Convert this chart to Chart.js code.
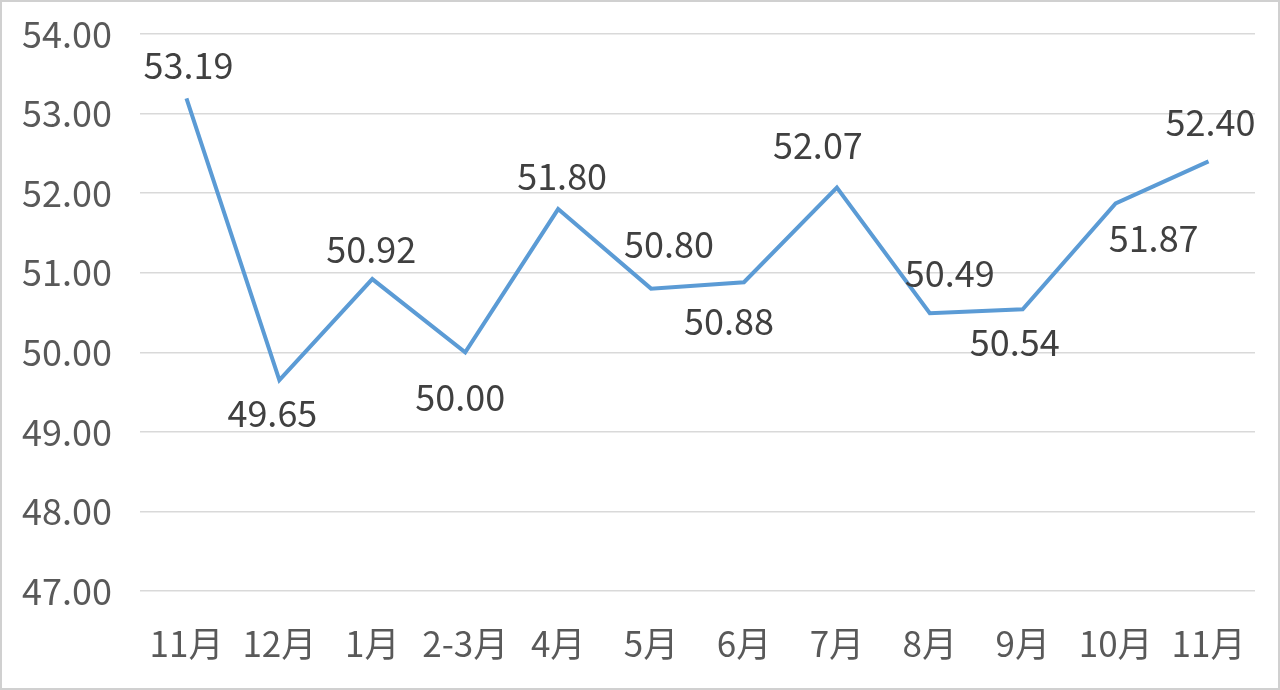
<!DOCTYPE html>
<html>
<head>
<meta charset="utf-8">
<script src="https://cdn.jsdelivr.net/npm/chart.js@4"></script>
<style>
  html, body { margin: 0; padding: 0; background: #fff; }
  #wrap { width: 1280px; height: 690px; }
</style>
</head>
<body>
<div id="wrap"><canvas id="chart" width="1280" height="690"></canvas></div>
<script>
// categories and values
const months = ['11月', '12月', '1月', '2-3月', '4月', '5月', '6月', '7月', '8月', '9月', '10月', '11月'];
const values = [53.19, 49.65, 50.92, 50.00, 51.80, 50.80, 50.88, 52.07, 50.49, 50.54, 51.87, 52.40];
const yTicks = [47, 48, 49, 50, 51, 52, 53, 54];

// where each value label sits relative to its point (style only)
const labelDx = [2, -7, -1, -5, 4, 18, -15, -19, 20, -8, 38, 2];
const labelDy = [-33, 33, -30, 45, -33, -44, 39, -42, -40, 33, 35, -39];

const FONT = '"Noto Sans CJK SC", "Noto Sans", sans-serif';

const valueLabels = {
    id: 'valueLabels',
    afterDatasetsDraw(chart) {
        const ctx = chart.ctx;
        const meta = chart.getDatasetMeta(0);
        ctx.save();
        ctx.font = '36px ' + FONT;
        ctx.fillStyle = '#404040';
        ctx.textAlign = 'center';
        ctx.textBaseline = 'middle';
        meta.data.forEach((pt, i) => {
            ctx.fillText(values[i].toFixed(2), pt.x + labelDx[i], pt.y + labelDy[i]);
        });
        ctx.restore();
    }
};

const frame = {
    id: 'frame',
    afterDraw(chart) {
        const ctx = chart.ctx;
        ctx.save();
        ctx.strokeStyle = '#d0d0d0';
        ctx.lineWidth = 2;
        ctx.strokeRect(1, 1, chart.width - 2, chart.height - 2);
        ctx.restore();
    }
};

new Chart(document.getElementById('chart'), {
    type: 'line',
    data: {
        labels: months,
        datasets: [{
            data: values,
            borderColor: '#5b9bd5',
            borderWidth: 4,
            pointRadius: 0,
            tension: 0,
            fill: false
        }]
    },
    options: {
        responsive: false,
        animation: false,
        layout: { padding: { top: 34, right: 25, bottom: 0, left: 0 } },
        plugins: {
            legend: { display: false },
            tooltip: { enabled: false }
        },
        scales: {
            x: {
                offset: true,
                grid: { display: false, drawTicks: false },
                border: { display: false },
                ticks: {
                    padding: 32,
                    color: '#595959',
                    font: { family: FONT, size: 35 },
                    maxRotation: 0,
                    autoSkip: false
                },
                afterFit(scale) {
                    scale.height = 99;
                    scale.paddingLeft = 0;
                    scale.paddingRight = 0;
                }
            },
            y: {
                min: yTicks[0],
                max: yTicks[yTicks.length - 1],
                afterBuildTicks(scale) { scale.ticks = yTicks.map(v => ({ value: v })); },
                grid: { color: '#d9d9d9', lineWidth: 1.5, drawTicks: false },
                border: { display: false },
                ticks: {
                    padding: 28,
                    color: '#595959',
                    font: { family: FONT, size: 36 },
                    callback: v => Number(v).toFixed(2)
                },
                afterFit(scale) {
                    scale.width = 140;
                    scale.paddingTop = 0;
                    scale.paddingBottom = 0;
                }
            }
        }
    },
    plugins: [valueLabels, frame]
});
</script>
</body>
</html>
